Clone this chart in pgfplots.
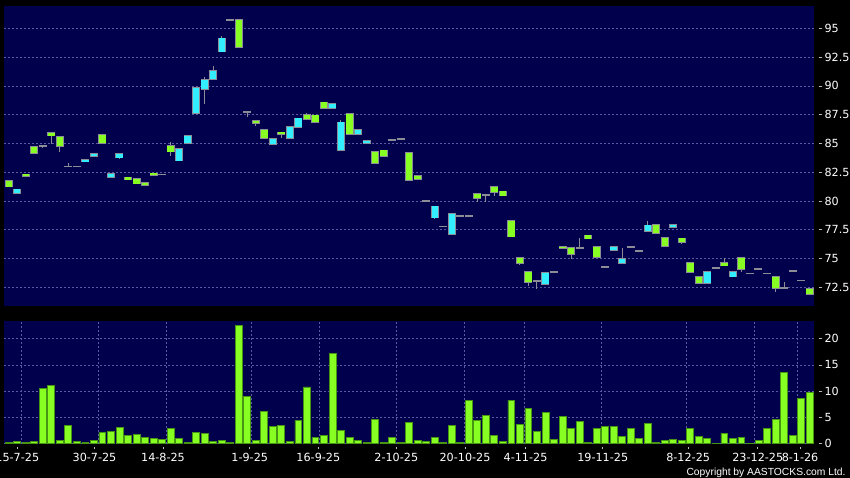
\documentclass[border=0pt]{standalone}
\usepackage{pgfplots}
\usepackage{pgfplotstable}
\pgfplotsset{compat=1.18}
\usepackage{fontspec}
\setmainfont{DejaVu Sans}
\newfontfamily\libsans{Liberation Sans}
\definecolor{bgnavy}{RGB}{0,0,76}
\definecolor{gridc}{RGB}{90,90,160}
\definecolor{upc}{RGB}{51,238,255}
\definecolor{dnc}{RGB}{136,255,34}
\definecolor{edgec}{RGB}{140,140,150}
\definecolor{volc}{RGB}{136,255,34}
\definecolor{voledge}{RGB}{70,150,20}
\definecolor{tickc}{RGB}{190,190,190}
\newcommand\tickfont{\fontsize{11.2}{13}\selectfont}
\newcommand\tdash{\textcolor{tickc}{\rule[3.6pt]{3.4pt}{0.8pt}}\hspace{2.6pt}}

\pgfplotstableread{
i o h l c v
0 81.71 81.71 81.24 81.24 0.25
1 80.66 81.01 80.66 81.01 0.45
2 82.30 82.30 82.15 82.15 0.20
3 84.66 84.66 84.14 84.14 0.45
4 84.78 84.78 84.60 84.78 10.6
5 85.88 85.88 84.95 85.67 11.17
6 85.53 85.53 84.28 84.78 0.63
7 83.00 83.30 82.95 83.00 3.43
8 83.00 83.00 83.00 83.00 0.45
9 83.42 83.56 83.42 83.56 0.20
10 83.88 84.08 83.88 84.08 0.63
11 85.73 85.73 85.06 85.06 2.22
12 82.10 82.34 82.10 82.34 2.41
13 83.76 84.08 83.67 84.08 3.17
14 82.05 82.05 81.85 81.85 1.65
15 81.88 81.88 81.50 81.50 1.84
16 81.56 81.56 81.36 81.36 1.27
17 82.40 82.40 82.23 82.23 1.08
18 82.30 82.30 82.30 82.30 0.89
19 84.78 85.12 83.93 84.28 2.86
20 83.50 84.49 83.50 84.49 1.08
21 85.06 85.64 85.06 85.64 0.25
22 87.62 89.79 87.62 89.79 2.22
23 89.70 90.74 88.42 90.51 2.03
24 90.57 91.75 90.57 91.29 0.45
25 92.97 94.33 92.97 94.13 0.63
26 95.75 95.75 95.75 95.75 0.25
27 95.72 95.85 93.35 93.35 22.6
28 87.75 87.75 87.27 87.75 9.00
29 86.92 86.92 86.54 86.75 0.70
30 86.14 86.14 85.44 85.44 6.22
31 84.97 85.36 84.97 85.36 3.24
32 85.96 85.96 85.50 85.79 3.43
33 85.44 86.40 85.44 86.40 0.45
34 86.40 87.18 86.40 87.18 4.44
35 87.47 87.62 87.09 87.09 10.8
36 87.44 87.44 86.83 86.83 1.20
37 88.57 88.57 88.05 88.05 1.65
38 88.05 88.40 88.05 88.40 17.2
39 84.40 87.03 84.40 86.83 2.60
40 87.53 87.53 85.79 85.79 1.27
41 85.79 86.14 85.79 86.14 0.63
42 85.00 85.21 85.00 85.21 0.25
43 84.28 84.28 83.32 83.32 4.63
44 84.40 84.40 83.93 83.93 0.25
45 85.32 85.32 85.32 85.32 1.27
46 85.38 85.38 85.38 85.38 0.25
47 84.14 84.14 81.79 81.79 4.00
48 82.20 82.20 81.88 81.88 0.63
49 79.97 79.97 79.97 79.97 0.45
50 78.55 79.53 78.43 79.53 1.27
51 77.78 77.78 77.78 77.78 0.25
52 77.13 78.90 77.13 78.90 3.43
53 78.67 78.67 78.67 78.67 0.25
54 78.67 78.67 78.67 78.67 8.25
55 80.60 80.60 79.91 80.28 4.44
56 80.54 80.54 79.91 80.54 5.40
57 81.19 81.19 80.46 80.80 1.65
58 80.83 80.83 80.46 80.46 0.45
59 78.23 78.23 76.90 76.90 8.25
60 75.02 75.02 74.44 74.58 3.62
61 73.85 73.85 72.64 72.93 6.79
62 73.07 73.07 72.38 73.07 2.41
63 72.76 73.76 72.76 73.76 6.03
64 73.80 73.80 73.80 73.80 0.82
65 76.00 76.00 75.93 75.93 5.20
66 75.89 75.89 74.96 75.36 2.98
67 75.94 76.81 75.94 75.94 4.19
68 77.00 77.00 76.72 76.72 0.32
69 75.98 75.98 75.09 75.09 2.98
70 74.29 74.29 74.29 74.29 3.24
71 75.71 75.98 75.71 75.98 3.36
72 74.58 75.89 74.58 74.96 1.46
73 75.98 75.98 75.98 75.98 2.98
74 75.65 75.65 75.65 75.65 1.02
75 77.36 78.26 77.36 77.88 3.81
76 77.94 77.94 77.19 77.19 0.32
77 76.78 76.78 76.06 76.06 0.57
78 77.71 77.94 77.71 77.94 0.82
79 76.75 76.75 76.29 76.41 0.57
80 74.64 74.64 73.83 73.83 2.98
81 73.37 73.37 72.85 72.85 1.46
82 72.85 73.80 72.85 73.80 1.02
83 74.17 74.17 74.17 74.17 0.13
84 74.58 75.02 74.38 74.38 1.97
85 73.42 73.80 73.42 73.80 1.02
86 75.02 75.02 73.80 74.06 1.20
87 73.71 73.71 73.71 73.71 0.13
88 74.11 74.11 74.11 74.11 0.57
89 73.71 73.71 73.71 73.71 2.98
90 73.37 73.37 72.12 72.41 4.63
91 72.44 72.93 72.44 72.44 13.58
92 73.91 73.91 73.91 73.91 1.59
93 73.10 73.10 73.10 73.10 8.57
94 72.38 72.38 71.92 71.92 9.84
}\candles

\pgfplotsset{
  panel/.style={
    scale only axis, width=810pt, xmin=-0.552, xmax=94.519,
    axis background/.style={fill=bgnavy},
    axis line style={draw=none},
    minor xtick={1.5,10.5,18.5,28.5,36.5,45.5,53.5,60.5,69.5,79.5,87.5,92.5},
    xminorgrids=true, xmajorgrids=false, ymajorgrids=true,
    grid style={draw=gridc, dash pattern=on 2pt off 2pt, line width=0.6pt},
    minor grid style={draw=gridc, dash pattern=on 2pt off 2pt, line width=0.6pt},
    minor tick length=0pt,
    ytick pos=right,
    ytick style={draw=none},
    yticklabel style={anchor=west, inner sep=0pt, xshift=4.3pt, font=\tickfont, text=white},
  },
}

\begin{document}
\begin{tikzpicture}
\path[use as bounding box, fill=black] (0pt,0pt) rectangle (850pt,478pt);

% price panel
\begin{axis}[panel, at={(4pt,172pt)}, anchor=south west, height=300pt,
  ymin=70.87, ymax=96.94,
  xtick=\empty,
  ytick={72.5,75,77.5,80,82.5,85,87.5,90,92.5,95},
  yticklabels={\tdash 72.5,\tdash 75,\tdash 77.5,\tdash 80,\tdash 82.5,\tdash 85,\tdash 87.5,\tdash 90,\tdash 92.5,\tdash 95},
]
% wicks
\addplot[draw=none, mark=none, no markers, error bars/.cd, y dir=both, y explicit, error mark=none,
  error bar style={line width=1pt, draw=edgec, solid}]
  table[x=i, y expr=(\thisrow{h}+\thisrow{l})/2, y error expr=(\thisrow{h}-\thisrow{l})/2] {\candles};
% outlines (and doji lines)
\addplot[draw=none, mark=none, no markers, error bars/.cd, y dir=both, y explicit, error mark=none,
  error bar style={line width=8pt, draw=edgec, solid}]
  table[x=i, y expr=(\thisrow{o}+\thisrow{c})/2, y error expr=abs(\thisrow{c}-\thisrow{o})/2+0.07] {\candles};
% rising bodies
\addplot[draw=none, mark=none, no markers, x filter/.expression={\thisrow{c}>\thisrow{o} ? x : nan},
  error bars/.cd, y dir=both, y explicit, error mark=none,
  error bar style={line width=6.4pt, draw=upc, solid}]
  table[x=i, y expr=(\thisrow{o}+\thisrow{c})/2, y error expr=abs(\thisrow{c}-\thisrow{o})/2] {\candles};
% falling bodies
\addplot[draw=none, mark=none, no markers, x filter/.expression={\thisrow{c}<\thisrow{o} ? x : nan},
  error bars/.cd, y dir=both, y explicit, error mark=none,
  error bar style={line width=6.4pt, draw=dnc, solid}]
  table[x=i, y expr=(\thisrow{o}+\thisrow{c})/2, y error expr=abs(\thisrow{c}-\thisrow{o})/2] {\candles};
\end{axis}

% volume panel
\begin{axis}[panel, at={(4pt,34.3pt)}, anchor=south west, height=122.7pt,
  ymin=0, ymax=23.37,
  ytick={0,5,10,15,20},
  yticklabels={\tdash 0,\tdash 5,\tdash 10,\tdash 15,\tdash 20},
  xtick={1.01,10.07,18.11,28.29,36.34,45.49,53.56,60.66,69.72,79.75,87.92,92.88},
  xticklabels={15-7-25,30-7-25,14-8-25,1-9-25,16-9-25,2-10-25,20-10-25,4-11-25,19-11-25,8-12-25,23-12-25,8-1-26},
  xtick pos=bottom,
  tick align=inside,
  major tick length=2.7pt,
  xtick style={draw=tickc, line width=0.8pt, yshift=-5.7pt},
  xticklabel style={anchor=north, inner sep=0pt, yshift=-9pt, font=\tickfont, text=white},
]
\addplot[ybar, bar width=6.9pt, bar shift=0pt, fill=volc, draw=voledge, line width=0.8pt]
  table[x=i, y=v] {\candles};
\end{axis}

\node[anchor=base east, inner sep=0pt, text=white, font=\libsans\fontsize{10.3}{12}\selectfont]
  at (845.7pt,2.3pt) {Copyright by AASTOCKS.com Ltd.};
\end{tikzpicture}
\end{document}
